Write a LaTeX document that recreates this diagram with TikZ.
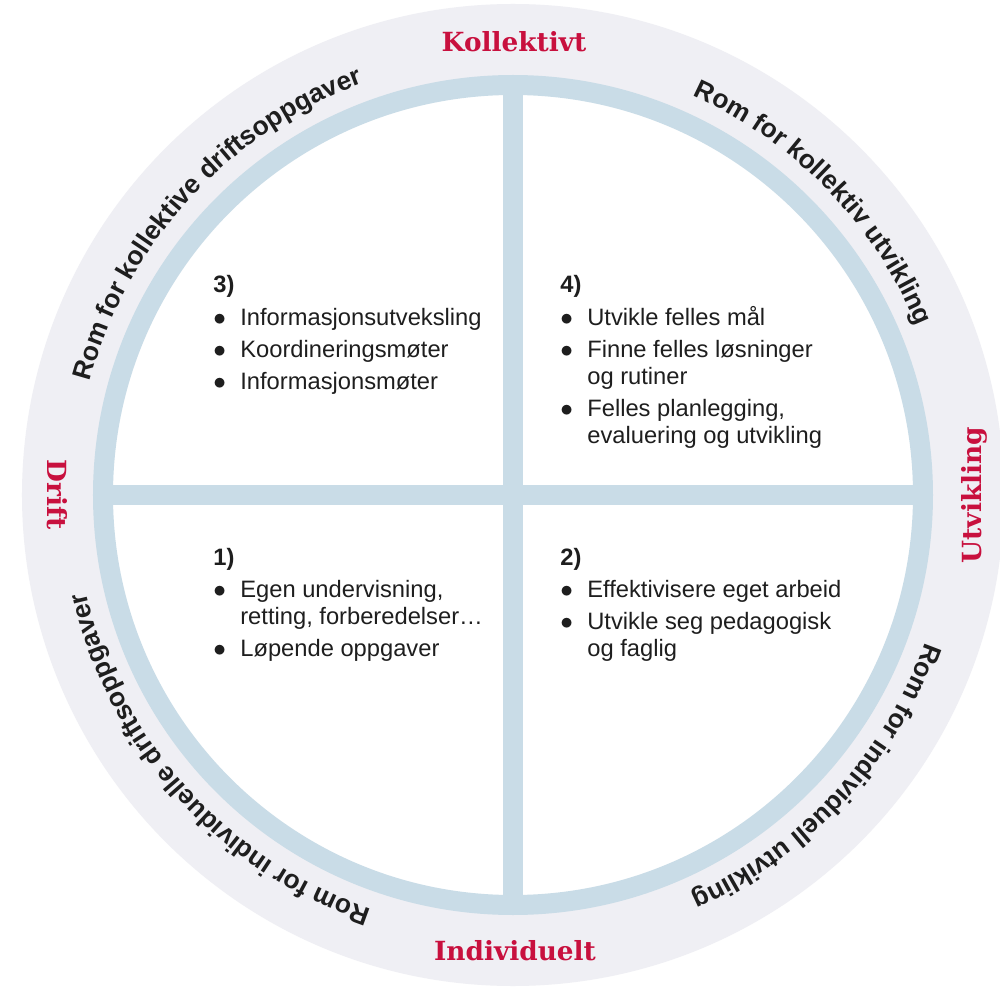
\documentclass[tikz,border=0pt]{standalone}
\usepackage{fontspec}
\setsansfont{Liberation Sans}
\newfontfamily\labfont{DejaVu Serif}
\usepackage{tikz}
\usetikzlibrary{decorations.text}

\definecolor{ringgray}{RGB}{239,239,244}
\definecolor{ringblue}{RGB}{201,220,231}
\definecolor{labred}{RGB}{200,16,62}
\definecolor{txt}{RGB}{30,30,30}

\newcommand\curvfont{\sffamily\bfseries\fontsize{15}{18}\selectfont\color{txt}}
\newcommand\bul{\makebox[0.54cm][l]{$\bullet$}}
\newcommand\ind{\hspace*{0.54cm}}

\begin{document}
\begin{tikzpicture}[x=0.02cm, y=0.02cm,
    axislabel/.style={anchor=base, font=\labfont\bfseries\fontsize{15}{18}\selectfont, text=labred},
    quad/.style={anchor=base west, inner sep=0pt, font=\sffamily\fontsize{13.5}{15.4}\selectfont, text=txt}]
  \clip (-513,-495) rectangle (487,495);
  \fill [white] (-513,-495) rectangle (487,495);
  \fill [ringgray] (0,0) circle (491);
  \fill [white] (0,0) circle (410);
  \draw [ringblue, line width=0.4cm] (0,0) circle (410);
  \draw [ringblue, line width=0.4cm] (0,-410) -- (0,410);
  \draw [ringblue, line width=0.4cm] (-410,0) -- (410,0);
  \foreach \ang/\txt in {
    137.5/Rom for kollektive driftsoppgaver, 44.2/Rom for kollektiv utvikling,
    -42.8/Rom for individuell utvikling, 222/Rom for individuelle driftsoppgaver
  }{
    \path [decorate, decoration/.expanded={text along path, text align=center,
      text={|\noexpand\curvfont|\txt}}]
      ({\ang+40}:438) arc [start angle={\ang+40}, end angle={\ang-40}, radius=438];
  }
  \node [axislabel] (kollektivt) at (1,443) {Kollektivt};
  \node [axislabel] (individuelt) at (2,-465) {Individuelt};
  \node [axislabel, rotate=-90] (drift) at (-465,0) {Drift};
  \node [axislabel, rotate=90] (utvikling) at (468,0) {Utvikling};
  \node [quad] (q3) at (-300,202) {\begin{tabular}[t]{@{}l@{}}
    \textbf{3)}\\[0.1cm]
    \bul Informasjonsutveksling\\[0.1cm]
    \bul Koordineringsmøter\\[0.1cm]
    \bul Informasjonsmøter
  \end{tabular}};
  \node [quad] (q4) at (47,202) {\begin{tabular}[t]{@{}l@{}}
    \textbf{4)}\\[0.1cm]
    \bul Utvikle felles mål\\[0.1cm]
    \bul Finne felles løsninger\\
    \ind og rutiner\\[0.1cm]
    \bul Felles planlegging,\\
    \ind evaluering og utvikling
  \end{tabular}};
  \node [quad] (q1) at (-300,-70) {\begin{tabular}[t]{@{}l@{}}
    \textbf{1)}\\[0.1cm]
    \bul Egen undervisning,\\
    \ind retting, forberedelser\ldots\\[0.1cm]
    \bul Løpende oppgaver
  \end{tabular}};
  \node [quad] (q2) at (47,-70) {\begin{tabular}[t]{@{}l@{}}
    \textbf{2)}\\[0.1cm]
    \bul Effektivisere eget arbeid\\[0.1cm]
    \bul Utvikle seg pedagogisk\\
    \ind og faglig
  \end{tabular}};
\end{tikzpicture}
\end{document}
